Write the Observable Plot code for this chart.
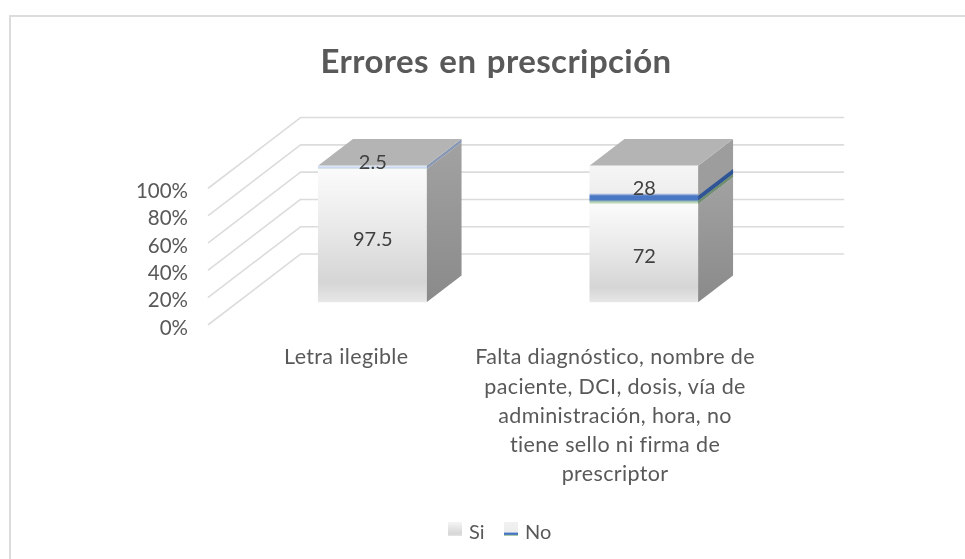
<!DOCTYPE html>
<html>
<head>
<meta charset="utf-8">
<script src="https://cdn.jsdelivr.net/npm/d3@7"></script>
<script src="https://cdn.jsdelivr.net/npm/@observablehq/plot@0.6"></script>
<style>
  html, body { margin: 0; padding: 0; background: #fff; }
  #chart { position: relative; width: 965px; height: 559px; overflow: hidden; font-family: Lato, "Open Sans", sans-serif; color: #595959; filter: blur(0.3px); }
  #chart svg { position: absolute; left: 0; top: 0; background: transparent; }
  #edge { position: absolute; left: 9px; top: 15px; right: -5px; bottom: -5px; border-left: 2px solid #dcdcdc; border-top: 2px solid #dcdcdc; }
  #title { position: absolute; left: 0; top: 40px; width: 992px; margin: 0; text-align: center; font-size: 33px; letter-spacing: 0.4px; word-spacing: 2px; line-height: 40px; font-weight: 700; color: #595959; }
  .lg { position: absolute; top: 518px; font-size: 20px; line-height: 26px; }
  .sw { position: absolute; top: 522px; width: 14px; height: 14px; }
</style>
</head>
<body>
<div id="chart">
  <div id="edge"></div>
  <h1 id="title">Errores en prescripción</h1>
  <span class="sw" style="left:448px;background:linear-gradient(#f5f5f5,#d6d6d6 85%,#e6e6e6)"></span>
  <span class="lg" style="left:469px">Si</span>
  <span class="sw" style="left:504px;background:linear-gradient(#f2f2f2,#ececec 72%,#4472c4 80%,#4472c4 88%,#a9c9a4 96%,#cfe0c8)"></span>
  <span class="lg" style="left:525px">No</span>
</div>
<script>
// Values
const categorias = [
  "Letra ilegible",
  "Falta diagnóstico, nombre de\npaciente, DCI, dosis, vía de\nadministración, hora, no\ntiene sello ni firma de\nprescriptor"
];
const si = [97.5, 72];
const no = [2.5, 28];
const ticks = [0, 20, 40, 60, 80, 100];

// Oblique 3D projection, in scale units
const shearX = 0.339, shearY = 51.6;  // shift from the front to the back of the floor
const dFront = 0.31, dBack = 0.69;    // bar depth extent
const barW = 0.4;
const px = (c, d) => c + shearX * d;
const py = (v, d) => v + shearY * d;

const filas = categorias.map((c, i) => ({
  i, c, si: si[i], no: no[i],
  left: i + 0.5 - barW / 2, right: i + 0.5 + barW / 2
}));
const segs = filas.flatMap(f => [
  {...f, serie: "Si", v0: 0, v1: f.si, val: f.si},
  {...f, serie: "No", v0: f.si, v1: f.si + f.no, val: f.no}
]);

// side face as two-point area
const side = (rows, lo, hi, key) => rows.flatMap(s => [dFront, dBack].map(d => ({
  key: key + s.i + s.serie,
  x: px(s.right, d), y1: py(lo(s), d), y2: py(hi(s), d)
})));
const segsNo = segs.filter(s => s.serie === "No");
const segsSi = segs.filter(s => s.serie === "Si");
const noWide = segsNo.filter(s => s.val >= 5);
const noThin = segsNo.filter(s => s.val < 5);

const grid = ticks.flatMap(t => [
  {t, x: px(0, 0), y: py(t, 0)},
  {t, x: px(0, 1), y: py(t, 1)},
  {t, x: px(2, 1), y: py(t, 1)}
]);
const topFace = filas.flatMap(f => [dFront, dBack].map(d => ({
  i: f.i, y: py(f.si + f.no, d), x1: px(f.left, d), x2: px(f.right, d)
})));

const defs = () => {
  const ns = "http://www.w3.org/2000/svg";
  const g = document.createElementNS(ns, "defs");
  const grad = (id, stops) => {
    const l = document.createElementNS(ns, "linearGradient");
    l.setAttribute("id", id);
    l.setAttribute("x1", 0); l.setAttribute("x2", 0);
    l.setAttribute("y1", 0); l.setAttribute("y2", 1);
    stops.forEach(([o, c]) => {
      const s = document.createElementNS(ns, "stop");
      s.setAttribute("offset", o); s.setAttribute("stop-color", c);
      l.appendChild(s);
    });
    g.appendChild(l);
  };
  grad("gSi", [[0, "#fbfbfb"], [0.4, "#ebebeb"], [0.85, "#d5d5d5"], [1, "#e7e7e7"]]);
  grad("gNo", [[0, "#f5f5f5"], [0.72, "#eeeeee"], [0.79, "#4a78c4"], [0.89, "#4a78c4"], [0.95, "#b4d0ae"], [1, "#dbe8d6"]]);
  grad("gNoThin", [[0, "#e3ebf6"], [0.6, "#c9d8f0"], [1, "#e2ecdf"]]);
  grad("gSide", [[0, "#a2a2a2"], [1, "#8a8a8a"]]);
  return g;
};

const spaced = (index, scales, values, dims, ctx, next) => {
  const g = next(index, scales, values, dims, ctx);
  g.style.letterSpacing = "0.35px";
  return g;
};
const frontRect = (rows, fill) => Plot.rect(rows, {
  x1: s => px(s.left, dFront), x2: s => px(s.right, dFront),
  y1: s => py(s.v0, dFront), y2: s => py(s.v1, dFront), fill
});

const plot = Plot.plot({
  width: 965, height: 559,
  marginLeft: 187.5, marginRight: 0, marginTop: 0, marginBottom: 0,
  x: {domain: [0, 2], range: [208, 751], axis: null},
  y: {domain: [0, 100], range: [324, 187.5], axis: null},
  style: {fontFamily: "Lato, 'Open Sans', sans-serif", background: "transparent", overflow: "visible"},
  marks: [
    defs,
    Plot.line(grid, {x: "x", y: "y", z: "t", stroke: "#dcdcdc", strokeWidth: 1.6}),
    Plot.axisY({ticks, tickFormat: d => d + "%", tickSize: 0, tickPadding: 0, dy: 3.5, fontSize: 20.5, fill: "#595959", label: null}),
    // side faces
    Plot.areaY(side(segsSi, s => s.v0, s => s.v1, "a"), {x: "x", y1: "y1", y2: "y2", z: "key", fill: "url(#gSide)"}),
    Plot.areaY(side(noWide, s => s.v0, s => s.v1, "b"), {x: "x", y1: "y1", y2: "y2", z: "key", fill: "#9d9d9d"}),
    Plot.areaY(side(noWide, s => s.v0 + s.val * 0.08, s => s.v0 + s.val * 0.21, "c"), {x: "x", y1: "y1", y2: "y2", z: "key", fill: "#2f5597"}),
    Plot.areaY(side(noWide, s => s.v0, s => s.v0 + s.val * 0.08, "d"), {x: "x", y1: "y1", y2: "y2", z: "key", fill: "#6f8f70"}),
    Plot.areaY(side(noThin, s => s.v0, s => s.v1, "e"), {x: "x", y1: "y1", y2: "y2", z: "key", fill: "#8797b3"}),
    // top faces
    Plot.areaX(topFace, {y: "y", x1: "x1", x2: "x2", z: "i", fill: "#b4b4b4"}),
    // front faces
    frontRect(segsSi, "url(#gSi)"),
    frontRect(noWide, "url(#gNo)"),
    frontRect(noThin, "url(#gNoThin)"),
    // data labels
    Plot.text(segs.filter(s => s.val >= 5), {
      x: s => px(s.i + 0.5, dFront), y: s => py((s.v0 + s.v1) / 2, dFront),
      text: s => String(s.val), dy: 3.5, fontSize: 20, fill: "#404040"
    }),
    Plot.text(segs.filter(s => s.val < 5), {
      x: s => px(s.i + 0.5, dFront), y: s => py((s.v0 + s.v1) / 2, dFront),
      text: s => String(s.val), dy: -5, fontSize: 20, fill: "#404040"
    }),
    // category labels
    Plot.text(filas, {
      x: f => f.i * 0.99 + 0.5, y: -24.2, text: "c", dx: 2, lineAnchor: "top", dy: -14,
      lineHeight: 1.36, fontSize: 21.5, fill: "#595959", textAnchor: "middle", render: spaced
    })
  ]
});
document.getElementById("chart").appendChild(plot);
</script>
</body>
</html>
